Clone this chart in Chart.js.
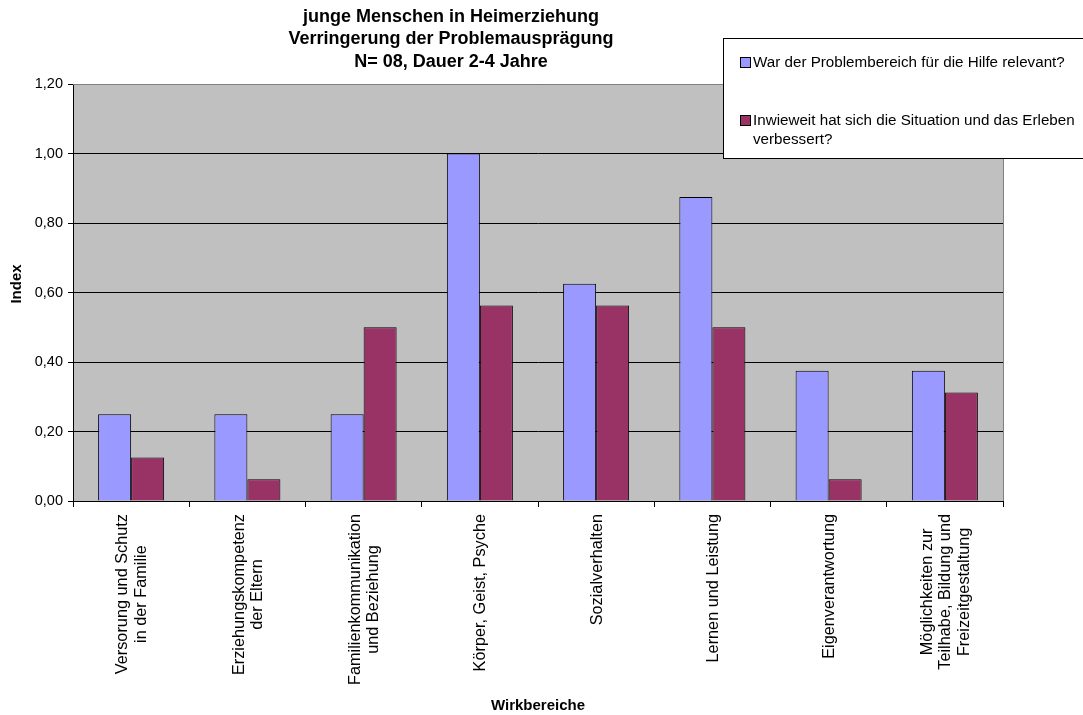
<!DOCTYPE html>
<html>
<head>
<meta charset="utf-8">
<script src="https://cdn.jsdelivr.net/npm/chart.js@4/dist/chart.umd.min.js"></script>
<style>
html,body{margin:0;padding:0;background:#fff;}
#wrap{width:1083px;height:715px;position:relative;}
</style>
</head>
<body>
<div id="wrap"><canvas id="c" width="1083" height="715"></canvas></div>
<script>
const titleLines = ["junge Menschen in Heimerziehung", "Verringerung der Problemausprägung", "N= 08, Dauer 2-4 Jahre"];
const categories = [
  ["Versorung und Schutz", "in der Familie"],
  ["Erziehungskompetenz", "der Eltern"],
  ["Familienkommunikation", "und Beziehung"],
  ["Körper, Geist, Psyche"],
  ["Sozialverhalten"],
  ["Lernen und Leistung"],
  ["Eigenverantwortung"],
  ["Möglichkeiten zur", "Teilhabe, Bildung und", "Freizeitgestaltung"]
];
const seriesNames = [
  ["War der Problembereich für die Hilfe relevant?"],
  ["Inwieweit hat sich die Situation und das Erleben", "verbessert?"]
];
const relevant = [0.25, 0.25, 0.25, 1.0, 0.625, 0.875, 0.375, 0.375];
const improved = [0.125, 0.0625, 0.5, 0.5625, 0.5625, 0.5, 0.0625, 0.3125];
const yTitle = "Index";
const xTitle = "Wirkbereiche";
const colors = ["#9999FF", "#993366"];

const FONT = "Arial, 'Liberation Sans', sans-serif";

const bgPlugin = {
  id: 'bg',
  beforeDraw(chart) {
    const a = chart.chartArea, ctx = chart.ctx;
    ctx.save();
    ctx.fillStyle = '#C0C0C0';
    ctx.fillRect(a.left, a.top, a.right - a.left, a.bottom - a.top);
    ctx.restore();
  },
  afterDatasetsDraw(chart) {
    const a = chart.chartArea, ctx = chart.ctx;
    ctx.save();
    // plot border top/right gray
    ctx.strokeStyle = '#808080';
    ctx.lineWidth = 1;
    ctx.beginPath();
    ctx.moveTo(a.left, a.top + 0.5);
    ctx.lineTo(a.right + 0.5, a.top + 0.5);
    ctx.lineTo(a.right + 0.5, a.bottom);
    ctx.stroke();
    ctx.restore();
  }
};

const textPlugin = {
  id: 'texts',
  afterDraw(chart) {
    const ctx = chart.ctx, a = chart.chartArea;
    const xs = chart.scales.x;
    ctx.save();
    // title
    ctx.fillStyle = '#000';
    ctx.font = "bold 18px " + FONT;
    ctx.textAlign = 'center';
    ctx.textBaseline = 'middle';
    titleLines.forEach((t, i) => ctx.fillText(t, 451, 17 + i * 22.5));
    // y title
    ctx.save();
    ctx.font = "bold 15px " + FONT;
    ctx.translate(17, 284);
    ctx.rotate(-Math.PI / 2);
    ctx.fillText(yTitle, 0, 0);
    ctx.restore();
    // x title
    ctx.font = "bold 15px " + FONT;
    ctx.fillText(xTitle, (a.left + a.right) / 2, 706);
    // category labels
    ctx.font = "16.3px " + FONT;
    categories.forEach((lines, i) => {
      const x = xs.getPixelForTick(i);
      let maxW = 0;
      lines.forEach(l => { maxW = Math.max(maxW, ctx.measureText(l).width); });
      const cy = a.bottom + 13 + maxW / 2;
      const lh = 18.3;
      const n = lines.length;
      ctx.save();
      ctx.translate(x, cy);
      ctx.rotate(-Math.PI / 2);
      ctx.textAlign = 'center';
      ctx.textBaseline = 'middle';
      lines.forEach((l, k) => {
        const off = (k - (n - 1) / 2) * lh;
        ctx.fillText(l, 0, off + 1);
      });
      ctx.restore();
    });
    // legend
    const lx = 723.5, ly = 38.5, lw = 370, lh2 = 120;
    ctx.fillStyle = '#fff';
    ctx.fillRect(lx, ly, lw, lh2);
    ctx.strokeStyle = '#000';
    ctx.lineWidth = 1;
    ctx.strokeRect(lx, ly, lw, lh2);
    ctx.font = "15.2px " + FONT;
    ctx.textAlign = 'left';
    ctx.textBaseline = 'middle';
    const itemY = [62, 120];
    seriesNames.forEach((lines, i) => {
      ctx.fillStyle = colors[i];
      ctx.fillRect(740, itemY[i] - 5, 10, 10);
      ctx.strokeStyle = '#000';
      ctx.strokeRect(740.5, itemY[i] - 5 + 0.5, 10, 10);
      ctx.fillStyle = '#000';
      lines.forEach((l, k) => ctx.fillText(l, 753, itemY[i] + k * 18.5 + 1));
    });
    ctx.restore();
  }
};

new Chart(document.getElementById('c'), {
  type: 'bar',
  data: {
    labels: categories.map(c => c.join(' ')),
    datasets: [
      { label: seriesNames[0].join(' '), data: relevant, backgroundColor: colors[0], borderColor: '#000', borderWidth: 1, categoryPercentage: 0.568, barPercentage: 1.0 },
      { label: seriesNames[1].join(' '), data: improved, backgroundColor: colors[1], borderColor: '#000', borderWidth: 1, categoryPercentage: 0.568, barPercentage: 1.0 }
    ]
  },
  options: {
    responsive: false,
    animation: false,
    layout: { padding: { top: 84, right: 80, left: 0, bottom: 0 } },
    plugins: { legend: { display: false }, title: { display: false }, tooltip: { enabled: false } },
    scales: {
      x: {
        offset: true,
        grid: { offset: true, drawOnChartArea: false, drawTicks: true, tickLength: 6, color: '#000' },
        border: { color: '#000', width: 1 },
        ticks: { display: false },
        afterFit(s) { s.height = 715 - 501; }
      },
      y: {
        min: 0, max: 1.2,
        grid: { color: '#000', tickLength: 5, drawTicks: true },
        border: { color: '#000', width: 1 },
        ticks: {
          stepSize: 0.2,
          padding: 5,
          color: '#000',
          font: { family: FONT, size: 14.5 },
          callback: v => v.toFixed(2).replace('.', ',')
        },
        afterFit(s) { s.width = 73; }
      }
    }
  },
  plugins: [bgPlugin, textPlugin]
});
</script>
</body>
</html>
